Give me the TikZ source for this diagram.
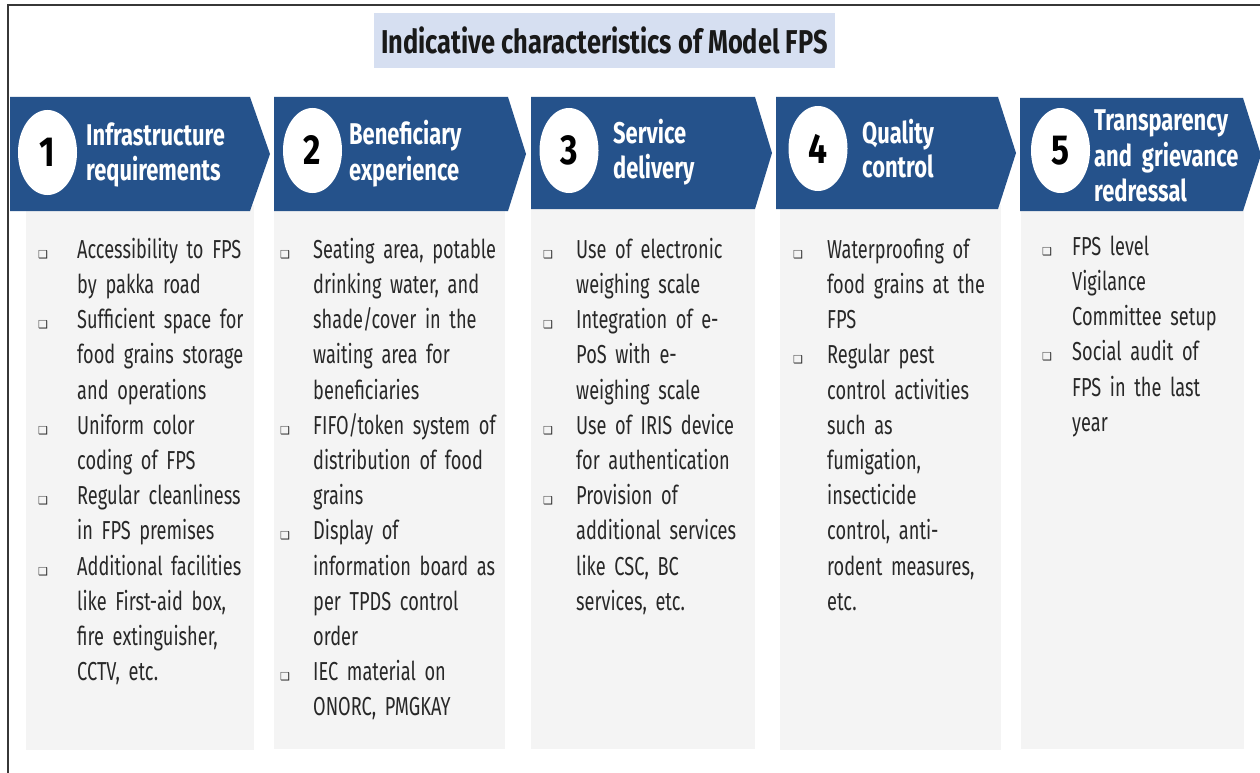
\documentclass[tikz,border=0pt]{standalone}
\usepackage{fontspec}
\setmainfont{Fira Sans}[FakeStretch=0.70]
\newfontfamily\headfont{Fira Sans}[FakeStretch=0.73]
\newfontfamily\titlefont{Fira Sans}[FakeStretch=0.77]
\newfontfamily\numfont{Fira Sans}[FakeStretch=0.8]
\newfontfamily\symfont{DejaVu Sans}
\usetikzlibrary{shapes.geometric}

\definecolor{headblue}{RGB}{37,82,139}
\definecolor{titlefill}{RGB}{214,223,241}
\definecolor{panelgray}{RGB}{244,244,244}
\definecolor{bodytxt}{RGB}{40,40,40}
\definecolor{framecol}{RGB}{55,55,55}

% square bullet and hanging-indent item
\newlength\bulw
\newcommand\bsq{{\symfont\fontsize{11}{11}\selectfont\char"2751}}
\newcommand\itm[1]{\noindent\hangindent=\bulw\hangafter=1\makebox[\bulw][l]{\bsq}\strut{\let\\\newline#1}\par}

\tikzset{
  panel/.style={fill=panelgray},
  chevron/.style={fill=headblue},
  numcirc/.style={ellipse, fill=white, minimum width=59pt, minimum height=85pt, inner sep=0pt,
    font=\numfont\bfseries\fontsize{42}{42}\selectfont, text=black},
  headtxt/.style={anchor=north west, inner sep=0pt, text width=170pt, align=left, text=white,
    font=\headfont\bfseries\fontsize{30}{34}\selectfont},
  listtxt/.style={anchor=north west, inner sep=0pt, text width=260pt, align=left, text=bodytxt,
    font=\fontsize{26}{35.2}\selectfont\setlength\parskip{0pt}},
}

\begin{document}
\begin{tikzpicture}[x=1pt,y=-1pt]
\useasboundingbox (0,0) rectangle (1260,773);
\clip (0,0) rectangle (1260,773);
\fill[white] (0,0) rectangle (1260,773);

% outer frame (left and top edges)
\draw[framecol, line width=1.6pt] (8,773) -- (8,5) -- (1260,5);

% title
\node[fill=titlefill, minimum width=461pt, minimum height=55pt, inner sep=0pt,
      font=\titlefont\bfseries\fontsize{33}{33}\selectfont, text=black!90]
  (title) at (604.5,40.5) {Indicative characteristics of Model FPS};

% grey content panels
\fill[panel] (26,205) rectangle (254,750);
\fill[panel] (274,205) rectangle (505,749);
\fill[panel] (531,205) rectangle (755,749);
\fill[panel] (780,205) rectangle (1001,750);
\fill[panel] (1021,205) rectangle (1244,749);

% chevron headers
\fill[chevron] (10,97) -- (250,97) -- (270,154) -- (250,211) -- (10,211) -- cycle;
\fill[chevron] (274,97) -- (508,97) -- (526,154) -- (508,211) -- (274,211) -- cycle;
\fill[chevron] (531,97) -- (755,97) -- (772,153) -- (755,209) -- (531,209) -- cycle;
\fill[chevron] (776,97) -- (998,97) -- (1016,153) -- (998,209) -- (776,209) -- cycle;
\fill[chevron] (1020,98) -- (1243,98) -- (1261,155) -- (1243,211) -- (1020,211) -- cycle;

% numbered discs
\node[numcirc] (n1) at (47.5,152.5) {1};
\node[numcirc] (n2) at (312.5,150.5) {2};
\node[numcirc] (n3) at (569,150.5) {3};
\node[numcirc] (n4) at (818,148.5) {4};
\node[numcirc] (n5) at (1060.5,150.5) {5};

% header captions
\node[headtxt] (h1) at (86,121.2) {\strut Infrastructure\\requirements};
\node[headtxt] (h2) at (349,120.2) {\strut Beneficiary\\experience};
\node[headtxt] (h3) at (613,118.8) {\strut Service\\delivery};
\node[headtxt] (h4) at (862,118.8) {\strut Quality\\control};
\node[headtxt, font=\headfont\bfseries\fontsize{30}{34.5}\selectfont] (h5) at (1094,106.5)
  {\strut Transparency\\and grievance\\redressal};

% bullet lists
\node[listtxt] (l1) at (38,233.5) {\setlength\bulw{39pt}%
  \itm{Accessibility to FPS\\by pakka road}%
  \itm{Sufficient space for\\food grains storage\\and operations}%
  \itm{Uniform color\\coding of FPS}%
  \itm{Regular cleanliness\\in FPS premises}%
  \itm{Additional facilities\\like First-aid box,\\fire extinguisher,\\CCTV, etc.}};

\node[listtxt] (l2) at (280,233.5) {\setlength\bulw{33pt}%
  \itm{Seating area, potable\\drinking water, and\\shade/cover in the\\waiting area for\\beneficiaries}%
  \itm{FIFO/token system of\\distribution of food\\grains}%
  \itm{Display of\\information board as\\per TPDS control\\order}%
  \itm{IEC material on\\ONORC, PMGKAY}};

\node[listtxt] (l3) at (543,233.5) {\setlength\bulw{33pt}%
  \itm{Use of electronic\\weighing scale}%
  \itm{Integration of e-\\PoS with e-\\weighing scale}%
  \itm{Use of IRIS device\\for authentication}%
  \itm{Provision of\\additional services\\like CSC, BC\\services, etc.}};

\node[listtxt] (l4) at (793,233.5) {\setlength\bulw{34pt}%
  \itm{Waterproofing of\\food grains at the\\FPS}%
  \itm{Regular pest\\control activities\\such as\\fumigation,\\insecticide\\control, anti-\\rodent measures,\\etc.}};

\node[listtxt] (l5) at (1042,230.5) {\setlength\bulw{30pt}%
  \itm{FPS level\\Vigilance\\Committee setup}%
  \itm{Social audit of\\FPS in the last\\year}};
\end{tikzpicture}
\end{document}
